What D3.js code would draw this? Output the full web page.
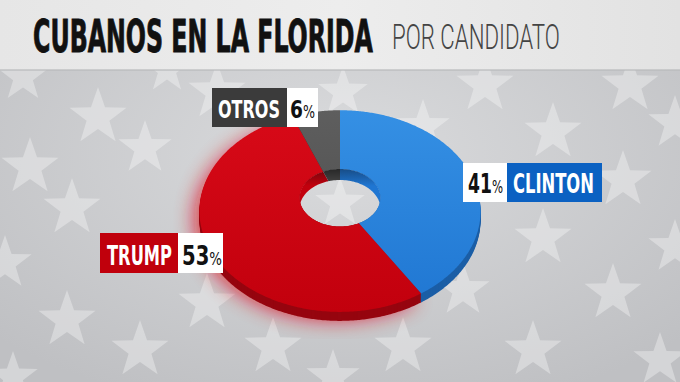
<!DOCTYPE html>
<html><head><meta charset="utf-8">
<script src="https://cdn.jsdelivr.net/npm/d3@7"></script>
<style>html,body{margin:0;padding:0;background:#c8c9cc;overflow:hidden}</style>
</head><body>
<svg id="chart" width="680" height="382"></svg>
<script>
// ---- data ----
const categories = ["CLINTON", "TRUMP", "OTROS"];
const values = [41, 53, 6];
const valueLabels = ["41%", "53%", "6%"];
const title = "CUBANOS EN LA FLORIDA";
const subtitle = "POR CANDIDATO";

// ---- styles ----
const faceTop = ["#3590e4", "#d80a18", "#5e5e5e"];
const faceBot = ["#1f76d2", "#c2000d", "#4a4a4a"];
const sideCol = ["#1b5ea6", "#96050f", "#2f2f2f"];
const wallCol = ["#174a82", "#6e060d", "#262626"];
const boxCol  = ["#0b61c2", "#c0000c", "#3b3b3b"];

const W = 680, H = 382;
const svg = d3.select("#chart");
const defs = svg.append("defs");

// fit a text element horizontally into [x, x+w] by scaling
function fitText(sel, x, y, w){
  const len = sel.node().getComputedTextLength();
  sel.attr("x",0).attr("y",0).attr("transform",`translate(${x},${y}) scale(${w/len},1)`);
  return sel;
}

// background
const bg = defs.append("radialGradient").attr("id","bgGrad").attr("cx","50%").attr("cy","40%").attr("r","70%");
bg.append("stop").attr("offset","0").attr("stop-color","#dadbdd");
bg.append("stop").attr("offset","1").attr("stop-color","#bfc0c3");
const band = defs.append("linearGradient").attr("id","bandGrad").attr("x1","0").attr("x2","1");
band.append("stop").attr("offset","0").attr("stop-color","#e6e6e6");
band.append("stop").attr("offset","0.5").attr("stop-color","#ededed");
band.append("stop").attr("offset","1").attr("stop-color","#e2e2e2");
defs.append("filter").attr("id","glow").attr("x","-50%").attr("y","-50%").attr("width","200%").attr("height","200%")
  .append("feGaussianBlur").attr("stdDeviation", 10);

svg.append("rect").attr("width",W).attr("height",H).attr("fill","url(#bgGrad)");

// decorative stars
const stars = [[23,77,26],[98,117,30],[145,148,28],[30,167,30],[72,208,30],[217,92,30],[167,70,24],
  [485,85,30],[630,85,30],[553,132,30],[623,180,30],[543,238,30],[463,290,28],[613,293,30],[533,350,30],
  [675,123,28],[675,247,28],[5,263,28],[67,320,30],[140,350,30],[207,303,30],[273,347,30],[333,377,28],
  [403,347,30],[13,377,26],[343,92,26],[423,127,28],[340,203,26],[660,360,28]];
function starPath(cx, cy, r){
  const pts = d3.range(10).map(i => {
    const a = -Math.PI/2 + i*Math.PI/5, rr = i%2 ? r*0.4 : r;
    return [cx + rr*Math.cos(a), cy + rr*Math.sin(a)];
  });
  return d3.line().curve(d3.curveLinearClosed)(pts);
}
svg.append("g").selectAll("path").data(stars).join("path")
  .attr("d", d => starPath(d[0], d[1], d[2]))
  .attr("fill","#ffffff").attr("opacity",0.33);

// title band
svg.append("rect").attr("width",W).attr("height",70).attr("fill","url(#bandGrad)");
svg.append("rect").attr("y",69).attr("width",W).attr("height",2).attr("fill","#b8b9bb").attr("opacity",0.6);
fitText(svg.append("text").text(title)
  .attr("font-family","'Liberation Sans Narrow','DejaVu Sans Condensed',sans-serif")
  .attr("font-weight",700).attr("font-size",44).attr("fill","#111")
  .attr("stroke","#111").attr("stroke-width",0.9), 33, 52, 340);
fitText(svg.append("text").text(subtitle)
  .attr("font-family","Roboto,'Liberation Sans Narrow',sans-serif")
  .attr("font-weight",300).attr("font-size",36).attr("fill","#444"), 392, 49, 168);

// ---- 3D donut (perspective-projected pie) ----
const P = {cx:340, cy:202, A:140, B:100, p:0.09, depth:9, holeR:0.29, holeV:-0.05, wall:11};
function proj(u, v){ const s = 1/(1 - P.p*v); return [P.cx + P.A*u*s, P.cy + P.B*v*s]; }
const line = d3.line().curve(d3.curveLinearClosed);
const pie = d3.pie().sort(null).value(d => d);
const arcs = pie(values).map((d,i) => ({...d, i}));
function slicePath(d){
  const n = Math.max(2, Math.ceil((d.endAngle - d.startAngle)/0.01));
  const pts = [proj(0,0)];
  for (let k=0;k<=n;k++){ const a = d.startAngle + (d.endAngle-d.startAngle)*k/n; pts.push(proj(Math.sin(a), -Math.cos(a))); }
  return line(pts);
}
function holePath(dy){
  const pts = d3.range(0, 2*Math.PI, 0.02).map(a => { const q = proj(P.holeR*Math.sin(a), P.holeV - P.holeR*Math.cos(a)); return [q[0], q[1]+dy]; });
  return line(pts);
}

// face gradients
arcs.forEach(d => {
  const g = defs.append("linearGradient").attr("id","face"+d.i).attr("gradientUnits","userSpaceOnUse")
    .attr("x1",0).attr("y1",110).attr("x2",0).attr("y2",312);
  g.append("stop").attr("offset","0").attr("stop-color",faceTop[d.i]);
  g.append("stop").attr("offset","1").attr("stop-color",faceBot[d.i]);
  const w = defs.append("linearGradient").attr("id","wall"+d.i).attr("gradientUnits","userSpaceOnUse")
    .attr("x1",0).attr("y1",168).attr("x2",0).attr("y2",186);
  w.append("stop").attr("offset","0").attr("stop-color",wallCol[d.i]);
  w.append("stop").attr("offset","1").attr("stop-color",faceBot[d.i]);
});

// masks
const fm = defs.append("mask").attr("id","faceMask");
fm.append("rect").attr("width",W).attr("height",H).attr("fill","#fff");
fm.append("path").attr("d",holePath(0)).attr("fill","#000");
const wm = defs.append("mask").attr("id","wallMask");
wm.append("path").attr("d",holePath(0)).attr("fill","#fff");
wm.append("path").attr("d",holePath(P.wall)).attr("fill","#000");

// red glow (kept out of the hole)
svg.append("g").attr("mask","url(#faceMask)")
  .append("path").attr("d", slicePath(arcs[1])).attr("fill","#e0101c")
  .attr("filter","url(#glow)").attr("opacity",0.8).attr("transform","translate(-5,8)");

const donut = svg.append("g");
// side walls
const side = donut.append("g").attr("mask","url(#faceMask)");
d3.range(P.depth, 0, -1).forEach(dy => {
  side.append("g").attr("transform",`translate(0,${dy})`).selectAll("path").data(arcs).join("path")
    .attr("d", slicePath).attr("fill", d => sideCol[d.i]);
});
// top face
donut.append("g").attr("mask","url(#faceMask)").selectAll("path").data(arcs).join("path")
  .attr("d", slicePath).attr("fill", d => `url(#face${d.i})`);
// inner wall of hole
donut.append("g").attr("mask","url(#wallMask)").selectAll("path").data(arcs).join("path")
  .attr("d", slicePath).attr("fill", d => `url(#wall${d.i})`);

// ---- labels ----
const layout = [
  {x:463, y:163, w:44, h:39, bx:507, bw:95, nameX:513, nameW:81, numX:468, numW:35, base:193, fs:26},
  {x:178, y:233, w:45, h:40, bx:100, bw:78, nameX:107, nameW:65, numX:182, numW:40, base:265, fs:27},
  {x:287, y:88,  w:31, h:39, bx:212, bw:75, nameX:218, nameW:62, numX:290, numW:25, base:118, fs:25}
];
const font = "'Liberation Sans Narrow','DejaVu Sans Condensed',sans-serif";
const lg = svg.append("g");
arcs.forEach(d => {
  const L = layout[d.i];
  lg.append("rect").attr("x",L.bx).attr("y",L.y).attr("width",L.bw).attr("height",L.h).attr("fill",boxCol[d.i]);
  lg.append("rect").attr("x",L.x).attr("y",L.y).attr("width",L.w).attr("height",L.h).attr("fill","#fff");
  fitText(lg.append("text").text(categories[d.i])
    .attr("font-family",font).attr("font-weight",700).attr("font-size",L.fs).attr("fill","#fff"),
    L.nameX, L.base, L.nameW);
  const num = valueLabels[d.i].replace("%","");
  const t = lg.append("text").attr("font-family",font).attr("font-weight",700).attr("fill","#111");
  t.append("tspan").attr("font-size",L.fs).text(num);
  t.append("tspan").attr("font-size",L.fs*0.68).attr("font-weight",400).text("%");
  fitText(t, L.numX, L.base, L.numW);
});
</script>
</body></html>
